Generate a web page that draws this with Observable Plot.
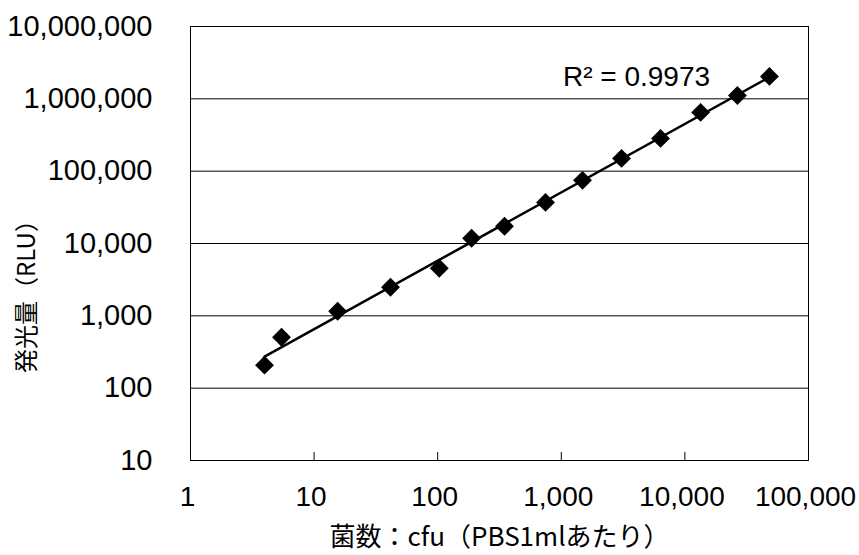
<!DOCTYPE html>
<html><head><meta charset="utf-8">
<script src="https://cdn.jsdelivr.net/npm/d3@7"></script>
<script src="https://cdn.jsdelivr.net/npm/@observablehq/plot@0.6"></script>
<style>html,body{margin:0;padding:0;background:#fff}</style>
</head><body><div id="chart"></div>
<script>
// Data
const cfu = [3.97, 5.45, 15.5, 41.5, 103, 188, 347, 745, 1485, 3070, 6350, 13400, 26600, 48300];
const rlu = [208, 506, 1159, 2483, 4540, 11800, 17300, 37000, 74600, 150000, 284000, 649000, 1110000, 2040000];
const xTicks = [1, 10, 100, 1000, 10000, 100000];
const yTicks = [10, 100, 1000, 10000, 100000, 1000000, 10000000];
const r2Label = "R² = 0.9973";
const xTitle = "菌数：cfu（PBS1mlあたり）";
const yTitle = "発光量（RLU）";

const data = cfu.map((x, i) => ({x, y: rlu[i]}));

// Power-law (log-log) trend line fitted to the data
const lx = cfu.map(Math.log10), ly = rlu.map(Math.log10);
const mx = d3.mean(lx), my = d3.mean(ly);
const slope = d3.sum(lx, (v, i) => (v - mx) * (ly[i] - my)) / d3.sum(lx, v => (v - mx) ** 2);
const intercept = my - slope * mx;
const fit = d3.extent(cfu).map(x => ({x, y: 10 ** (intercept + slope * Math.log10(x))}));

const fmt = d3.format(",");
const cjk = "'Noto Sans CJK JP', 'Liberation Sans', sans-serif";

const chart = Plot.plot({
  width: 859,
  height: 555,
  marginLeft: 190,
  marginRight: 51,
  marginTop: 26,
  marginBottom: 95,
  style: {fontFamily: "'Liberation Sans', Arial, 'Noto Sans CJK JP', sans-serif", fontSize: "29px", color: "#000", background: "#fff", overflow: "visible"},
  x: {type: "log", domain: [1, 100000]},
  y: {type: "log", domain: [10, 10000000]},
  marks: [
    Plot.ruleY(yTicks, {stroke: "#000", strokeWidth: 1}),
    Plot.ruleX(xTicks, {stroke: "#000", strokeWidth: 1, insetTop: 426}),
    Plot.frame({stroke: "#000", strokeWidth: 1}),
    Plot.axisY({ticks: yTicks, tickSize: 0, tickPadding: 38, tickFormat: fmt, label: null, fontSize: 29}),
    Plot.axisX({ticks: xTicks, tickSize: 0, tickPadding: 26, tickFormat: fmt, label: null, fontSize: 28, dx: -3}),
    Plot.line(fit, {x: "x", y: "y", stroke: "#000", strokeWidth: 2.5}),
    Plot.dot(data, {x: "x", y: "y", symbol: "diamond2", r: 8.5, fill: "#000", stroke: "none"}),
    Plot.text([r2Label], {text: d => d, frameAnchor: "top-right", dx: -172, dy: 51, textAnchor: "middle", lineAnchor: "middle", fontSize: 28}),
    Plot.text([yTitle], {text: d => d, frameAnchor: "left", rotate: -90, dx: -163, dy: 47, textAnchor: "middle", lineAnchor: "middle", fontSize: 24, fontFamily: cjk}),
    Plot.text([xTitle], {text: d => d, frameAnchor: "bottom", dy: 77, textAnchor: "middle", lineAnchor: "middle", fontSize: 26, fontFamily: cjk})
  ]
});
document.getElementById("chart").appendChild(chart);
</script>
</body></html>
